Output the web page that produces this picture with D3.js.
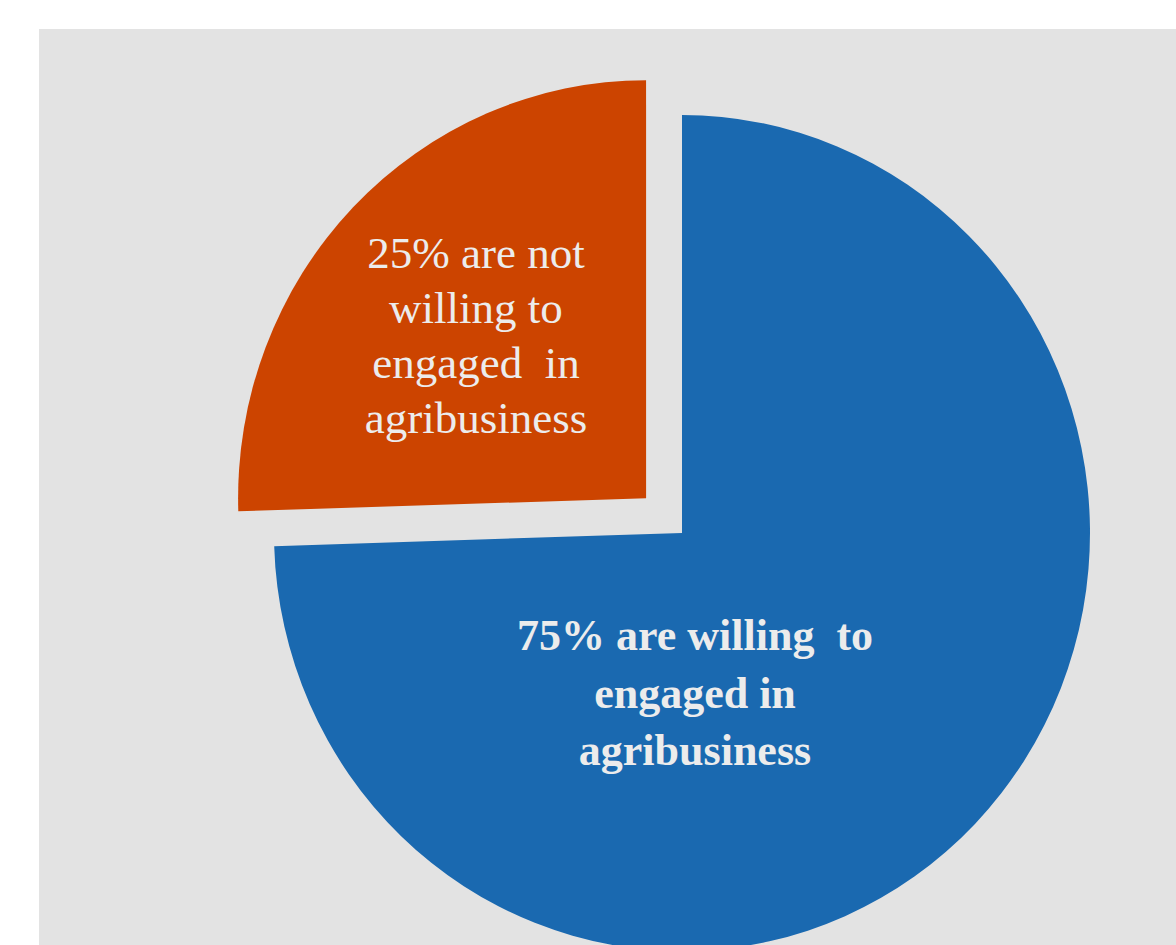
<!DOCTYPE html>
<html>
<head>
	<meta charset="utf-8">
	<title>agribusiness pie</title>
	<script src="https://d3js.org/d3.v7.min.js"></script>
	<style>
		body { margin: 0; background: #fff; }
	</style>
</head>
<body>
	<script type="text/javascript">

		// data
		var categories = ["willing", "not willing"];
		var shares = [74.5, 25.5];
		var labelLines = [
			["75% are willing  to", "engaged in", "agribusiness"],
			["25% are not", "willing to", "engaged  in", "agribusiness"]
		];
		var colors = ["#1a69b0", "#cc4400"];

		var width = 1176;
		var height = 945;
		var cx = 682, cy = 533;
		var rx = 408, ry = 418;
		var explode = 50;

		var svg = d3.select("body").append("svg")
			.attr("width", width)
			.attr("height", height);

		svg.append("rect")
			.attr("x", 39)
			.attr("y", 29)
			.attr("width", width - 39)
			.attr("height", height - 29)
			.attr("fill", "#e3e3e3");

		var pie = d3.pie().sort(null).value(function (d) { return d; });
		var arcs = pie(shares);

		var arc = d3.arc().innerRadius(0).outerRadius(rx);

		function offset(d, i) {
			var mid = (d.startAngle + d.endAngle) / 2;
			var k = i === 1 ? explode : 0;
			return [Math.sin(mid) * k, -Math.cos(mid) * k];
		}

		svg.selectAll("path.slice")
			.data(arcs)
			.enter()
				.append("path")
				.attr("class", "slice")
				.attr("transform", function (d, i) {
					var o = offset(d, i);
					return "translate(" + (cx + o[0]) + "," + (cy + o[1]) + ") scale(1," + (ry / rx) + ")";
				})
				.attr("d", arc)
				.attr("fill", function (d, i) { return colors[i]; });

		// label positions (centre x, first baseline, line step) and styles
		var labelPos = [
			{ x: 695, y: 650, dy: 57.5, size: 44, weight: "bold" },
			{ x: 476, y: 268, dy: 55, size: 45, weight: "normal" }
		];

		labelLines.forEach(function (lines, i) {
			var p = labelPos[i];
			var t = svg.append("text")
				.attr("text-anchor", "middle")
				.attr("font-family", "'Liberation Serif', 'Times New Roman', serif")
				.attr("font-size", p.size)
				.attr("font-weight", p.weight)
				.attr("fill", "#ececec")
				.style("white-space", "pre");
			lines.forEach(function (s, j) {
				t.append("tspan")
					.attr("x", p.x)
					.attr("y", p.y + j * p.dy)
					.text(s);
			});
		});

	</script>
</body>
</html>
